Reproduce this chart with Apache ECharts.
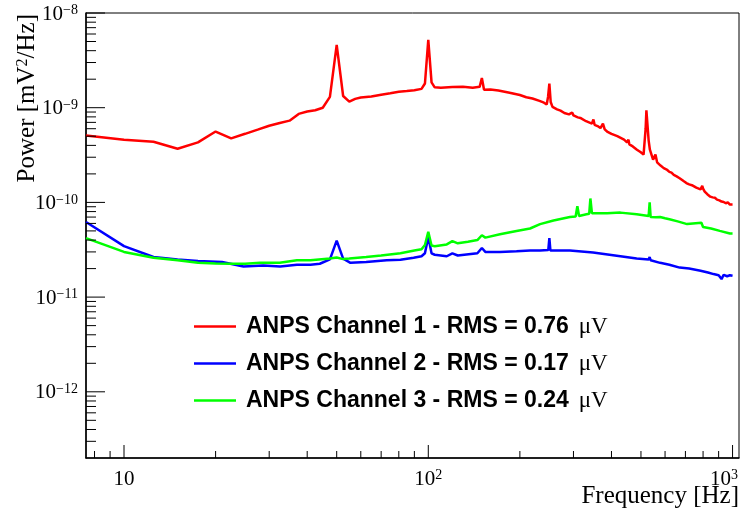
<!DOCTYPE html>
<html><head><meta charset="utf-8">
<script src="https://cdn.jsdelivr.net/npm/echarts@6/dist/echarts.min.js"></script>
<style>html,body{margin:0;padding:0;background:#fff}#c{width:746px;height:517px}</style>
</head><body><div id="c"></div>
<script>
// ---------- data ----------
const seriesNames = [
  'ANPS Channel 1 - RMS = 0.76 μV',
  'ANPS Channel 2 - RMS = 0.17 μV',
  'ANPS Channel 3 - RMS = 0.24 μV'
];
const seriesColors = ['#ff0000', '#0000ff', '#00ff00'];

const freq1 = [7.5,10,12.5,15,17.5,20,22.5,25,27.5,30,32.5,35,37.5,40,42.5,45,47.5,50,52.5,55,57.5,60,65,70,75,80,85,90,95,97.5,100,102.5,105,110,120,130,140,147.5,150,152.5,160,170,185,200,210,220,232,240,245,247.5,250,252.5,256,265,272,280,290,297,300,310,316,330,345,349,352,360,368,375,380,387,400,418,440,450,455,458,470,485,498,510,515,518,521,524,527,530,535,539,548,558,565,580,594,600,610,615,620,630,641,648,655,670,680,692,700,705,720,735,746,760,770,785,795,800,810,826,835,845,860,868,875,889,905,920,935,950,965,980,990,1000];
const power1 = [5.1e-10,4.6e-10,4.37e-10,3.69e-10,4.3e-10,5.6e-10,4.75e-10,5.3e-10,5.86e-10,6.45e-10,6.9e-10,7.3e-10,8.6e-10,9.1e-10,9.4e-10,1.0e-9,1.3e-9,4.6e-9,1.33e-9,1.16e-9,1.24e-9,1.28e-9,1.31e-9,1.37e-9,1.42e-9,1.47e-9,1.5e-9,1.53e-9,1.58e-9,1.8e-9,5.2e-9,1.85e-9,1.64e-9,1.62e-9,1.65e-9,1.66e-9,1.62e-9,1.66e-9,2.06e-9,1.55e-9,1.56e-9,1.52e-9,1.44e-9,1.36e-9,1.29e-9,1.25e-9,1.18e-9,1.13e-9,1.08e-9,1.3e-9,1.8e-9,1.15e-9,1.02e-9,9.6e-10,9.3e-10,8.8e-10,8.5e-10,8.9e-10,8.3e-10,7.9e-10,7.8e-10,7.2e-10,6.8e-10,7.5e-10,6.6e-10,6.4e-10,6.1e-10,6.8e-10,5.9e-10,5.6e-10,5.3e-10,5.0e-10,4.6e-10,4.3e-10,4.6e-10,4.1e-10,3.9e-10,3.6e-10,3.4e-10,3.2e-10,3.1e-10,6.0e-10,9.4e-10,9.0e-10,9.2e-10,4.5e-10,3.6e-10,3.6e-10,2.83e-10,3.2e-10,2.65e-10,2.45e-10,2.3e-10,2.38e-10,2.2e-10,2.28e-10,2.1e-10,2.06e-10,1.95e-10,2.0e-10,1.88e-10,1.8e-10,1.74e-10,1.67e-10,1.7e-10,1.6e-10,1.55e-10,1.52e-10,1.45e-10,1.43e-10,1.38e-10,1.37e-10,1.5e-10,1.4e-10,1.3e-10,1.22e-10,1.2e-10,1.15e-10,1.13e-10,1.1e-10,1.12e-10,1.07e-10,1.05e-10,1.02e-10,1.01e-10,9.8e-11,1.0e-10,9.5e-11,9.8e-11,9.5e-11];

const freq2 = [7.5,10,12.5,15,17.5,21,24.7,28.7,32.6,37,41,44,47.5,50,52.5,55.5,62.5,73,81,89.5,95,97.5,100,102.5,105,115,120,125,145,150,154,172,195,216,233,248,250,252,292,348,428,484,530,534,538,578,620,670,720,785,830,866,900,920,935,960,980,1000];
const power2 = [6.2e-11,3.45e-11,2.65e-11,2.5e-11,2.4e-11,2.35e-11,2.1e-11,2.15e-11,2.1e-11,2.2e-11,2.2e-11,2.25e-11,2.5e-11,3.95e-11,2.55e-11,2.3e-11,2.35e-11,2.45e-11,2.48e-11,2.6e-11,2.7e-11,2.9e-11,4.3e-11,2.9e-11,2.8e-11,2.7e-11,2.9e-11,2.75e-11,2.9e-11,3.3e-11,3.0e-11,3.0e-11,3.05e-11,3.1e-11,3.1e-11,3.15e-11,4.2e-11,3.1e-11,3.1e-11,2.95e-11,2.7e-11,2.55e-11,2.5e-11,2.65e-11,2.45e-11,2.3e-11,2.2e-11,2.05e-11,2.0e-11,1.9e-11,1.82e-11,1.75e-11,1.7e-11,1.55e-11,1.72e-11,1.66e-11,1.7e-11,1.68e-11];

const freq3 = [7.5,10,12.5,15,17.5,20,22.5,25,28,32.5,37,41,47.5,50,52.5,55,62.5,70,81,90,95,97.5,100,102.5,105,115,120,125,135,145,150,154,172,195,216,233,258,292,305,309,313,331,338,341,345,387,428,484,530,534,538,560,578,600,625,660,709,790,800,850,908,980,1000];
const power3 = [4.2e-11,3.0e-11,2.6e-11,2.45e-11,2.3e-11,2.27e-11,2.25e-11,2.25e-11,2.3e-11,2.3e-11,2.45e-11,2.45e-11,2.55e-11,2.62e-11,2.52e-11,2.55e-11,2.65e-11,2.75e-11,2.9e-11,3.1e-11,3.2e-11,3.55e-11,4.9e-11,3.5e-11,3.45e-11,3.6e-11,3.9e-11,3.7e-11,3.85e-11,4.0e-11,4.5e-11,4.25e-11,4.6e-11,5.0e-11,5.3e-11,5.9e-11,6.45e-11,7.0e-11,7.1e-11,9.1e-11,7.2e-11,7.5e-11,7.6e-11,1.1e-10,7.7e-11,7.7e-11,7.8e-11,7.5e-11,7.2e-11,1.0e-10,7.0e-11,6.95e-11,7.0e-11,6.8e-11,6.6e-11,6.3e-11,5.9e-11,6.1e-11,5.5e-11,5.3e-11,5.0e-11,4.7e-11,4.7e-11];

const xMin = 7.5, xMax = 1050;
const yMin = 2e-13, yMax = 1e-8;
const xMajorTicks = [10, 100, 1000];
const xLabelExp = ['', '2', '3'];
const yMajorTicks = [1e-8, 1e-9, 1e-10, 1e-11, 1e-12];
const yLabelExp = ['−8', '−9', '−10', '−11', '−12'];
const xTitle = 'Frequency [Hz]';
const yTitleParts = ['Power [mV', '2', '/Hz]'];

// ---------- chart ----------
const pairs = (f, p) => f.map((v, i) => [v, p[i]]);
const allData = [pairs(freq1, power1), pairs(freq2, power2), pairs(freq3, power3)];

const chart = echarts.init(document.getElementById('c'), null, {renderer: 'canvas'});
const option = {
  animation: false,
  backgroundColor: '#ffffff',
  grid: {left: 86, right: 7, top: 13, bottom: 59, show: true, borderColor: '#000', borderWidth: 1, backgroundColor: 'transparent'},
  xAxis: {type: 'log', logBase: 10, min: xMin, max: xMax,
    axisLine: {show: true, onZero: false, lineStyle: {color: '#000', width: 1.5}},
    axisTick: {show: false}, axisLabel: {show: false}, splitLine: {show: false}, minorTick: {show: false}},
  yAxis: {type: 'log', logBase: 10, min: yMin, max: yMax,
    axisLine: {show: true, onZero: false, lineStyle: {color: '#000', width: 1.5}},
    axisTick: {show: false}, axisLabel: {show: false}, splitLine: {show: false}, minorTick: {show: false}},
  legend: {
    orient: 'vertical', left: 194, top: 315, padding: 0, itemGap: 14,
    itemWidth: 42, itemHeight: 2.5, icon: 'rect',
    data: seriesNames,
    formatter: name => '{t|' + name.replace(' μV', '') + '}{m|μV}',
    textStyle: {
      rich: {
        t: {fontFamily: 'Liberation Sans', fontWeight: 'bold', fontSize: 23, lineHeight: 23, color: '#000', padding: [0, 0, 0, 5]},
        m: {fontFamily: 'Liberation Serif', fontWeight: 'normal', fontSize: 23, lineHeight: 23, color: '#000', padding: [0, 0, 0, 10]}
      }
    }
  },
  series: seriesNames.map((n, i) => ({
    name: n, type: 'line', data: allData[i], showSymbol: false, symbol: 'none',
    color: seriesColors[i], lineStyle: {color: seriesColors[i], width: 2.5}, z: i === 0 ? 3 : 2
  }))
};
chart.setOption(option);

// ---------- ticks, tick labels and titles via the axis scales ----------
const X = v => chart.convertToPixel({xAxisIndex: 0}, v);
const Y = v => chart.convertToPixel({yAxisIndex: 0}, v);
const xL = X(xMin), xR = X(xMax), yB = Y(yMin), yT = Y(yMax);
const els = [];
const line = (x1, y1, x2, y2) => els.push({type: 'line', silent: true, z: 10,
  shape: {x1, y1, x2, y2}, style: {stroke: '#000', lineWidth: 1}});
const labRich = {
  b: {fontFamily: 'Liberation Serif', fontSize: 21, lineHeight: 21, verticalAlign: 'bottom', padding: [4, 0, 0, 0], fill: '#000'},
  s: {fontFamily: 'Liberation Serif', fontSize: 14, lineHeight: 14, verticalAlign: 'top', fill: '#000'}
};
const lab = (text, x, y, align) => els.push({type: 'text', silent: true, z: 10, x, y,
  style: {text, rich: labRich, align, verticalAlign: 'middle'}});

// x ticks
for (let d = 0; d <= 2; d++) {
  for (let m = 2; m <= 9; m++) {
    const v = m * Math.pow(10, d);
    if (v > xMin && v < xMax) { const px = X(v); line(px, yB, px, yB - 7); }
  }
}
xMajorTicks.forEach((v, i) => {
  const px = X(v); line(px, yB, px, yB - 13);
  const txt = '{b|10}' + (xLabelExp[i] ? '{s|' + xLabelExp[i] + '}' : '');
  if (i === xMajorTicks.length - 1) lab(txt, xR - 1, yB + 21, 'right');
  else lab(txt, px, yB + 21, 'center');
});
// y ticks
for (let e = -13; e <= -9; e++) {
  for (let m = 2; m <= 9; m++) {
    const v = m * Math.pow(10, e);
    if (v > yMin * 1.01 && v < yMax) { const py = Y(v); line(xL, py, xL + 10, py); }
  }
}
yMajorTicks.forEach((v, i) => {
  const py = Y(v); line(xL, py, xL + 19, py);
  lab('{b|10}{s|' + yLabelExp[i] + '}', xL - 8, py + 1, 'right');
});
// axis titles
const titRich = {
  t: {fontFamily: 'Liberation Serif', fontSize: 25, lineHeight: 25, verticalAlign: 'bottom', padding: [4, 0, 0, 0], fill: '#000'},
  u: {fontFamily: 'Liberation Serif', fontSize: 16, lineHeight: 16, verticalAlign: 'top', fill: '#000'}
};
els.push({type: 'text', silent: true, z: 10, x: xR, y: yB + 38,
  style: {text: '{t|' + xTitle + '}', rich: titRich, align: 'right', verticalAlign: 'middle'}});
els.push({type: 'text', silent: true, z: 10, x: 27, y: yT + 1, rotation: Math.PI / 2,
  style: {text: '{t|' + yTitleParts[0] + '}{u|' + yTitleParts[1] + '}{t|' + yTitleParts[2] + '}', rich: titRich, align: 'right', verticalAlign: 'middle'}});

chart.setOption({graphic: {elements: els}});
</script></body></html>
